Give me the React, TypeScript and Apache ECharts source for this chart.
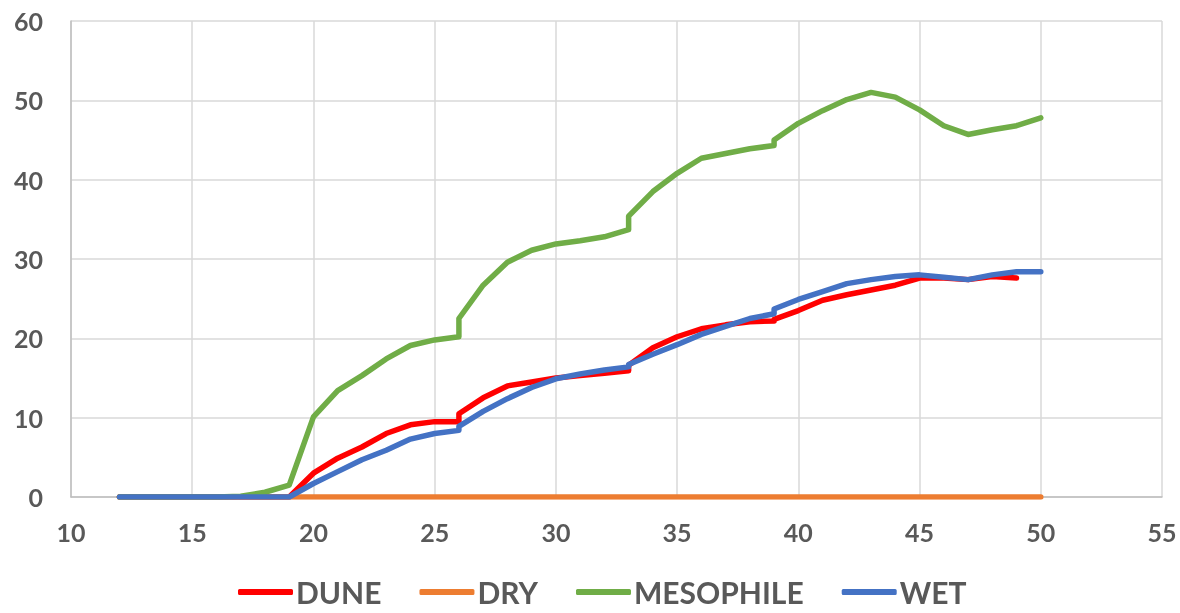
import React, { useEffect, useRef } from "react";
import * as echarts from "echarts";

const seriesNames = ["DUNE", "DRY", "MESOPHILE", "WET"];
const seriesColors = ["#FF0000", "#ED7D31", "#70AD47", "#4472C4"];

const duneX = [12, 13, 14, 15, 16, 17, 18, 19, 20, 21, 22, 23, 24, 25, 26, 26, 27, 28, 29, 30, 31, 32, 33, 33, 34, 35, 36, 37, 38, 39, 39, 40, 41, 42, 43, 44, 45, 46, 47, 48, 49];
const duneY = [0, 0, 0, 0, 0, 0, 0, 0, 3.0, 4.9, 6.3, 8.0, 9.1, 9.5, 9.5, 10.5, 12.5, 14.0, 14.5, 15.0, 15.3, 15.6, 15.9, 16.6, 18.8, 20.2, 21.2, 21.7, 22.1, 22.2, 22.4, 23.5, 24.8, 25.5, 26.1, 26.7, 27.6, 27.6, 27.4, 27.8, 27.6];

const dryX = [12, 13, 14, 15, 16, 17, 18, 19, 20, 21, 22, 23, 24, 25, 26, 27, 28, 29, 30, 31, 32, 33, 34, 35, 36, 37, 38, 39, 40, 41, 42, 43, 44, 45, 46, 47, 48, 49, 50];
const dryY = [0, 0, 0, 0, 0, 0, 0, 0, 0, 0, 0, 0, 0, 0, 0, 0, 0, 0, 0, 0, 0, 0, 0, 0, 0, 0, 0, 0, 0, 0, 0, 0, 0, 0, 0, 0, 0, 0, 0];

const mesoX = [12, 13, 14, 15, 16, 17, 18, 19, 20, 21, 22, 23, 24, 25, 26, 26, 27, 28, 29, 30, 31, 32, 33, 33, 34, 35, 36, 37, 38, 39, 39, 40, 41, 42, 43, 44, 45, 46, 47, 48, 49, 50];
const mesoY = [0, 0, 0, 0, 0, 0.1, 0.6, 1.5, 10.1, 13.4, 15.3, 17.4, 19.1, 19.8, 20.2, 22.5, 26.7, 29.6, 31.1, 31.9, 32.3, 32.8, 33.7, 35.4, 38.5, 40.8, 42.7, 43.3, 43.9, 44.3, 45.0, 47.1, 48.7, 50.1, 51.0, 50.4, 48.8, 46.8, 45.7, 46.3, 46.8, 47.8];

const wetX = [12, 13, 14, 15, 16, 17, 18, 19, 20, 21, 22, 23, 24, 25, 26, 26, 27, 28, 29, 30, 31, 32, 33, 33, 34, 35, 36, 37, 38, 39, 39, 40, 41, 42, 43, 44, 45, 46, 47, 48, 49, 50];
const wetY = [0, 0, 0, 0, 0, 0, 0, 0, 1.7, 3.2, 4.7, 5.9, 7.3, 8.0, 8.4, 8.9, 10.8, 12.4, 13.8, 14.9, 15.5, 16.0, 16.4, 16.7, 18.0, 19.2, 20.5, 21.5, 22.5, 23.1, 23.7, 24.9, 25.9, 26.9, 27.4, 27.8, 28.0, 27.7, 27.4, 28.0, 28.4, 28.4];

const xTicks = { min: 10, max: 55, interval: 5 };
const yTicks = { min: 0, max: 60, interval: 10 };

const allX = [duneX, dryX, mesoX, wetX];
const allY = [duneY, dryY, mesoY, wetY];

export default function App() {
  const ref = useRef<HTMLDivElement>(null);
  useEffect(() => {
    if (!ref.current) return;
    const chart = echarts.init(ref.current, null, { renderer: "svg" });
    const font = "Lato, 'Liberation Sans', sans-serif";
    chart.setOption({
      animation: false,
      grid: { left: 71, right: 18, top: 21, bottom: 116, containLabel: false },
      xAxis: {
        type: "value",
        min: xTicks.min,
        max: xTicks.max,
        interval: xTicks.interval,
        axisLine: { show: true, lineStyle: { color: "#BFBFBF", width: 1.5 } },
        axisTick: { show: false },
        splitLine: { show: true, lineStyle: { color: "#D9D9D9", width: 1.5 } },
        axisLabel: { color: "#595959", fontSize: 25, fontWeight: "bold", fontFamily: font, margin: 22 },
      },
      yAxis: {
        type: "value",
        min: yTicks.min,
        max: yTicks.max,
        interval: yTicks.interval,
        axisLine: { show: true, lineStyle: { color: "#BFBFBF", width: 1.5 } },
        axisTick: { show: false },
        splitLine: { show: true, lineStyle: { color: "#D9D9D9", width: 1.5 } },
        axisLabel: { color: "#595959", fontSize: 25, fontWeight: "bold", fontFamily: font, margin: 28 },
      },
      legend: {
        top: 577,
        left: 238,
        padding: 0,
        icon: "roundRect",
        itemWidth: 55,
        itemHeight: 6,
        itemGap: 38,
        textStyle: { color: "#595959", fontSize: 30, lineHeight: 30, fontWeight: "bold", fontFamily: font, padding: [0, 0, 0, -2] },
        data: seriesNames,
      },
      series: seriesNames.map((name, i) => ({
        name,
        type: "line",
        data: allX[i].map((x, j) => [x, allY[i][j]]),
        symbol: "none",
        color: seriesColors[i],
        lineStyle: { color: seriesColors[i], width: 5.5, cap: "round", join: "round" },
      })),
    });
    return () => chart.dispose();
  }, []);
  return <div ref={ref} style={{ position: "fixed", left: 0, top: 0, width: 1180, height: 613 }} />;
}
